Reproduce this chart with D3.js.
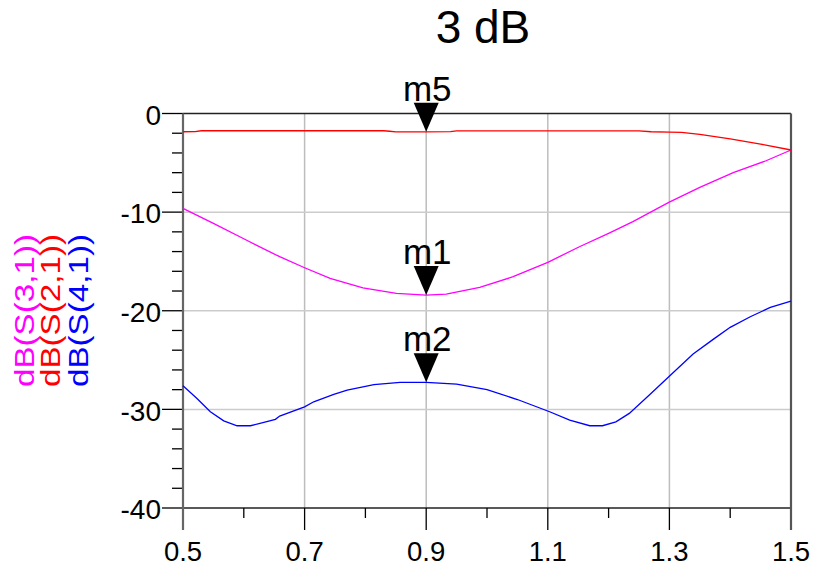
<!DOCTYPE html>
<html><head><meta charset="utf-8">
<script src="https://cdn.jsdelivr.net/npm/d3@7"></script>
<style>body{margin:0;background:#fff}svg{display:block}text{font-family:"Liberation Sans",Arial,sans-serif}</style>
</head><body><svg id="c" width="816" height="568"></svg>
<script>
const title = "3 dB";
const xTicks = [0.5, 0.7, 0.9, 1.1, 1.3, 1.5];
const yTicks = [0, -10, -20, -30, -40];
const legendLabels = ["dB(S(3,1))", "dB(S(2,1))", "dB(S(4,1))"];
const seriesColors = ["#ff00ff", "#ff0000", "#0000ff"];

const freqS21 = [0.50, 0.52, 0.53, 0.60, 0.70, 0.80, 0.83, 0.84, 0.85, 0.90, 0.94, 0.95, 1.00, 1.10, 1.20, 1.25, 1.27, 1.30, 1.32, 1.35, 1.40, 1.45, 1.50];
const dbS21   = [-1.85, -1.84, -1.75, -1.75, -1.75, -1.75, -1.75, -1.80, -1.86, -1.86, -1.84, -1.76, -1.76, -1.76, -1.76, -1.76, -1.85, -1.88, -1.92, -2.11, -2.58, -3.10, -3.70];

const freqS31 = [0.500, 0.550, 0.604, 0.659, 0.700, 0.742, 0.796, 0.851, 0.900, 0.933, 0.988, 1.043, 1.100, 1.152, 1.200, 1.240, 1.299, 1.350, 1.405, 1.459, 1.500];
const dbS31   = [-9.62, -11.14, -12.83, -14.52, -15.64, -16.72, -17.67, -18.24, -18.41, -18.31, -17.63, -16.55, -15.09, -13.51, -12.15, -10.97, -9.01, -7.49, -6.00, -4.79, -3.70];

const freqS41 = [0.500, 0.523, 0.545, 0.567, 0.589, 0.611, 0.633, 0.652, 0.659, 0.700, 0.715, 0.748, 0.770, 0.814, 0.857, 0.900, 0.950, 1.000, 1.050, 1.103, 1.136, 1.169, 1.190, 1.212, 1.234, 1.267, 1.299, 1.339, 1.372, 1.400, 1.433, 1.466, 1.500];
const dbS41   = [-27.61, -28.89, -30.24, -31.16, -31.66, -31.66, -31.32, -31.01, -30.68, -29.74, -29.23, -28.48, -28.04, -27.50, -27.26, -27.26, -27.45, -28.00, -29.00, -30.24, -31.09, -31.66, -31.66, -31.26, -30.41, -28.55, -26.69, -24.39, -22.90, -21.68, -20.61, -19.66, -19.02];

const markerNames = ["m5", "m1", "m2"];
const markerFreq = [0.9, 0.9, 0.9];
const markerDb = [-1.86, -18.41, -27.26];

const svg = d3.select("#c");
const x = d3.scaleLinear().domain([0.5, 1.5]).range([183, 791]);
const y = d3.scaleLinear().domain([-40, 0]).range([508, 113.5]);

// grid
const g = svg.append("g");
g.selectAll(".vg").data(xTicks.slice(1, -1)).join("line")
  .attr("x1", d => x(d)).attr("x2", d => x(d)).attr("y1", y(0)).attr("y2", y(-40))
  .attr("stroke", "#bdbdbd").attr("stroke-width", 1.5);
g.selectAll(".hg").data(yTicks.slice(1, -1)).join("line")
  .attr("x1", x(0.5)).attr("x2", x(1.5)).attr("y1", d => y(d)).attr("y2", d => y(d))
  .attr("stroke", "#cccccc").attr("stroke-width", 1.5);

// left axis ticks
const yMinor = d3.range(0, -41, -2).filter(v => v % 10 !== 0);
g.selectAll(".ym").data(yMinor).join("line")
  .attr("x1", 172).attr("x2", 183).attr("y1", d => y(d)).attr("y2", d => y(d))
  .attr("stroke", "#000").attr("stroke-width", 1.3);
g.selectAll(".yM").data(yTicks).join("line")
  .attr("x1", 162).attr("x2", 183).attr("y1", d => y(d)).attr("y2", d => y(d))
  .attr("stroke", "#000").attr("stroke-width", 1.3);
// top / bottom borders
g.append("line").attr("x1", 183).attr("x2", 791).attr("y1", y(0)).attr("y2", y(0)).attr("stroke", "#222").attr("stroke-width", 1.5);
g.append("line").attr("x1", 183).attr("x2", 791).attr("y1", y(-40)).attr("y2", y(-40)).attr("stroke", "#222").attr("stroke-width", 1.5);

// bottom ticks
const xMinor = d3.range(0.6, 1.5, 0.2).map(v => +v.toFixed(2));
g.selectAll(".xm").data(xMinor).join("line")
  .attr("x1", d => x(d)).attr("x2", d => x(d)).attr("y1", y(-40)).attr("y2", 518)
  .attr("stroke", "#000").attr("stroke-width", 1.3);
g.selectAll(".xM").data(xTicks.slice(1, -1)).join("line")
  .attr("x1", d => x(d)).attr("x2", d => x(d)).attr("y1", y(-40)).attr("y2", 530)
  .attr("stroke", "#000").attr("stroke-width", 1.3);
// left and right axis lines
g.append("line").attr("x1", x(0.5)).attr("x2", x(0.5)).attr("y1", y(0)).attr("y2", 530).attr("stroke", "#666").attr("stroke-width", 2.2);
g.append("line").attr("x1", x(1.5)).attr("x2", x(1.5)).attr("y1", y(0)).attr("y2", 530).attr("stroke", "#555").attr("stroke-width", 2.2);

// tick labels
svg.selectAll(".xl").data(xTicks).join("text")
  .attr("x", d => x(d)).attr("y", 561).attr("text-anchor", "middle")
  .attr("font-size", 27.5).attr("fill", "#000").text(d => d.toFixed(1));
svg.selectAll(".yl").data(yTicks).join("text")
  .attr("x", 161).attr("y", d => y(d)).attr("dy", "0.4em").attr("text-anchor", "end")
  .attr("font-size", 28).attr("fill", "#000").text(d => d);

// title
svg.append("text").attr("x", 483).attr("y", 43).attr("text-anchor", "middle")
  .attr("font-size", 46).attr("fill", "#000").text(title);

// lines
const line = d3.line().x(d => x(d[0])).y(d => y(d[1]));
const series = [d3.zip(freqS31, dbS31), d3.zip(freqS21, dbS21), d3.zip(freqS41, dbS41)];
svg.selectAll(".s").data(series).join("path")
  .attr("d", line).attr("fill", "none")
  .attr("stroke", (d, i) => seriesColors[i]).attr("stroke-width", 1.3);

// markers
markerNames.forEach((m, i) => {
  const px = x(markerFreq[i]), py = y(markerDb[i]);
  svg.append("path").attr("d", `M${px},${py} L${px - 12.5},${py - 29} L${px + 12.5},${py - 29} Z`).attr("fill", "#000");
  svg.append("text").attr("x", px + 1).attr("y", py - 31).attr("text-anchor", "middle")
    .attr("font-size", 35).attr("fill", "#000").text(m);
});

// legend
const legX = [34, 60, 88];
legendLabels.forEach((t, i) => {
  svg.append("text").attr("transform", `translate(${legX[i]},387) rotate(-90)`)
    .attr("font-size", 27).attr("fill", seriesColors[i])
    .attr("textLength", 153).attr("lengthAdjust", "spacingAndGlyphs").text(t);
});
</script></body></html>
